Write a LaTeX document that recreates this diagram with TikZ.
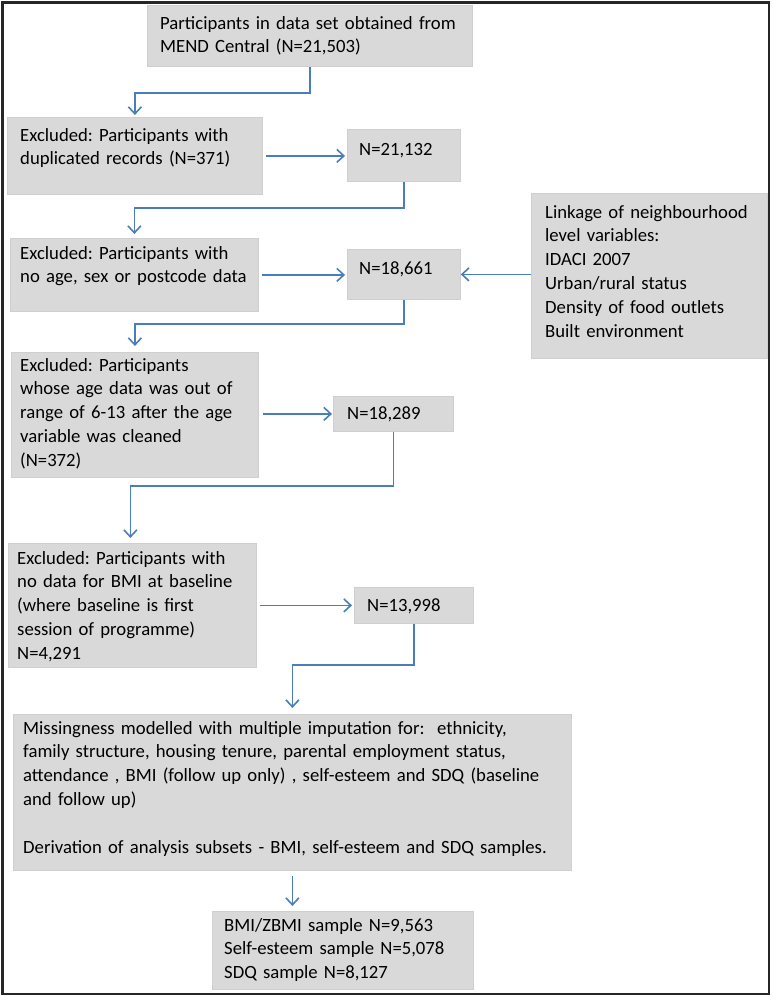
\documentclass[tikz,border=0pt]{standalone}
\usepackage{fontspec}
\setmainfont{Carlito}
\usetikzlibrary{arrows.meta,calc}
\definecolor{boxgray}{HTML}{D9D9D9}
\definecolor{boxedge}{HTML}{CFCFCF}
\definecolor{arrblue}{HTML}{4A7EBB}
\tikzset{
  box/.style={draw=boxedge, line width=0.8pt, fill=boxgray, rectangle, inner sep=0pt, anchor=north west},
  txt/.style={inner sep=0pt, anchor=base west, align=left, font=\fontsize{18.7}{23.8}\selectfont\frenchspacing, text=black},
  conn/.style={draw=arrblue, line width=1.6pt, -{Straight Barb[length=7pt,width=13pt,line width=1.6pt]}, line join=miter},
}
\begin{document}
\begin{tikzpicture}[x=1pt,y=-1pt]
\useasboundingbox (0,0) rectangle (772,997);
\draw[line width=2.5pt, black!85] (2.5,2.5) rectangle (769,994);

% boxes
\node[box, minimum width=325pt, minimum height=61pt] (b1) at (147,5) {};
\node[txt, text width=310pt] (t1) at (160,29) {Participants in data set obtained from\\MEND Central (N=21,503)};

\node[box, minimum width=255pt, minimum height=77pt] (b2) at (7,117) {};
\node[txt, text width=240pt] (t2) at (20,141) {Excluded: Participants with\\duplicated records (N=371)};

\node[box, minimum width=113pt, minimum height=52pt] (n1) at (347,129) {};
\node[txt, text width=100pt] (tn1) at (359,155) {N=21,132};

\node[box, minimum width=248pt, minimum height=73pt] (b3) at (10,238) {};
\node[txt, text width=236pt] (t3) at (20,259) {Excluded: Participants with\\no age, sex or postcode data};

\node[box, minimum width=113pt, minimum height=50pt] (n2) at (347,249) {};
\node[txt, text width=100pt] (tn2) at (359,274) {N=18,661};

\node[box, minimum width=236pt, minimum height=165pt] (lk) at (531,193) {};
\node[txt, text width=220pt] (tlk) at (545,218) {Linkage of neighbourhood\\level variables:\\IDACI 2007\\Urban/rural status\\Density of food outlets\\Built environment};

\node[box, minimum width=247pt, minimum height=125pt] (b4) at (11,352) {};
\node[txt, text width=236pt] (t4) at (20,371) {Excluded: Participants\\whose age data was out of\\range of 6-13 after the age\\variable was cleaned\\(N=372)};

\node[box, minimum width=120pt, minimum height=35pt] (n3) at (333,396) {};
\node[txt, text width=104pt] (tn3) at (347,419) {N=18,289};

\node[box, minimum width=248pt, minimum height=124pt] (b5) at (8,543) {};
\node[txt, text width=238pt] (t5) at (17,564) {Excluded: Participants with\\no data for BMI at baseline\\(where baseline is first\\session of programme)\\N=4,291};

\node[box, minimum width=119pt, minimum height=36pt] (n4) at (354,587) {};
\node[txt, text width=104pt] (tn4) at (367,611) {N=13,998};

\node[box, minimum width=558pt, minimum height=156pt] (b6) at (13,714) {};
\node[txt, text width=545pt] (t6) at (23,734) {Missingness modelled with multiple imputation for:\ \ ethnicity,\\family structure, housing tenure, parental employment status,\\attendance , BMI (follow up only) , self-esteem and SDQ (baseline\\and follow up)\\[23.8pt]Derivation of analysis subsets - BMI, self-esteem and SDQ samples.};

\node[box, minimum width=261pt, minimum height=78pt] (b7) at (212,911) {};
\node[txt, text width=246pt] (t7) at (224,931) {BMI/ZBMI sample N=9,563\\Self-esteem sample N=5,078\\SDQ sample N=8,127};

% connectors
\draw[conn, shorten >=2pt] (b1.south) -- ++(0,26) -| (b2.north);
\draw[conn, shorten <=3pt, shorten >=2pt] (b2.east) -- (n1.west |- b2.east);
\draw[conn, shorten >=4pt] (n1.south) -- ++(0,26) -| (b3.north);
\draw[conn, shorten <=3pt, shorten >=2pt] (b3.east) -- (n2.west |- b3.east);
\draw[conn] (lk.west |- n2.east) -- (n2.east);
\draw[conn, shorten >=6pt] (n2.south) -- ++(0,24) -| (b4.north);
\draw[conn, shorten <=4pt, shorten >=1pt] (b4.east |- n3.west) -- (n3.west);
\draw[conn, shorten >=5pt] (n3.south) -- ++(0,54) -| ($(b5.north)+(-2,0)$);
\draw[conn, shorten <=3pt, shorten >=2pt] (b5.east |- n4.west) -- (n4.west);
\draw[conn, shorten >=6pt] (n4.south) -- ++(0,41) -| (b6.north);
\coordinate (b6b) at ($(b6.south)+(0,5)$);
\draw[conn, shorten >=5pt] (b6b) -- (b6b |- b7.north);
\end{tikzpicture}
\end{document}
